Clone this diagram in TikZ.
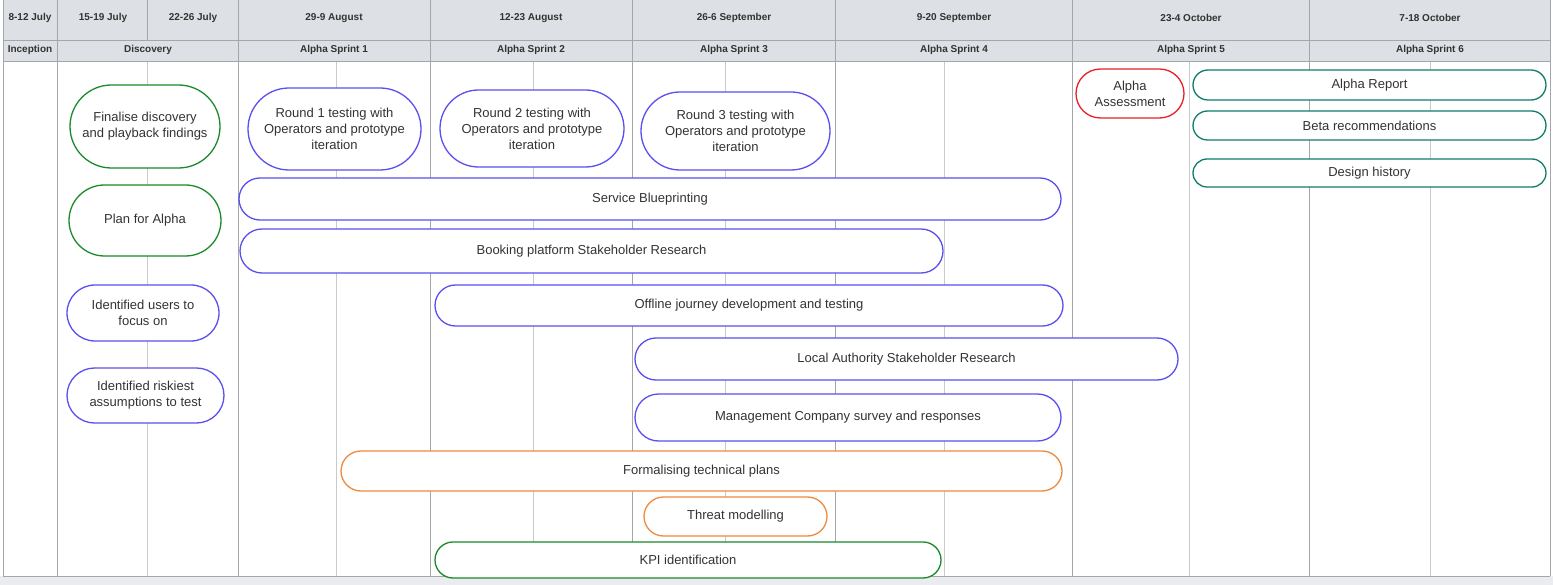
\documentclass[tikz,border=0pt]{standalone}
\usepackage{fontspec}
\setmainfont{Liberation Sans}
\usetikzlibrary{shapes.misc}
\definecolor{hdr}{HTML}{DDE0E4}
\definecolor{grid}{HTML}{A3A7AB}
\definecolor{lgrid}{HTML}{C8CACC}
\definecolor{cgreen}{HTML}{1A8A2A}
\definecolor{cblue}{HTML}{5B4FF0}
\definecolor{cred}{HTML}{E8202A}
\definecolor{cteal}{HTML}{0E7D6A}
\definecolor{corange}{HTML}{F08A3C}
\definecolor{txt}{HTML}{333333}
\tikzset{
  pill/.style={rounded rectangle, draw=#1, line width=1.3pt, fill=white, inner sep=0pt,
    text=txt, font=\fontsize{13}{16}\selectfont, align=center},
  hd/.style={font=\bfseries\fontsize{10}{12}\selectfont, text=txt},
}
\newcommand{\mypill}[7]{%
  \node[pill=#6, minimum width={(#4-#2)*1pt}, minimum height={(#5-#3)*1pt}]
    (#1) at ({(#2+#4)/2},{(#3+#5)/2}) {#7};}
\begin{document}
\begin{tikzpicture}[x=1pt,y=-1pt]
\useasboundingbox (0,0) rectangle (1553,585);
\fill[hdr!60] (0,576) rectangle (1553,585);
\fill[hdr] (3,0) rectangle (1550,61);
\fill[white] (3,61) rectangle (1550,576);
% light body lines
\foreach \x in {336,533,725,944,1189,1430} \draw[lgrid,line width=0.8pt] (\x,61) -- (\x,576);
\draw[lgrid,line width=0.8pt] (147,61) -- (147,576);
\draw[grid,line width=0.8pt] (147,0) -- (147,40);
% main lines
\foreach \x in {3,57,238,430,632,835,1072,1309,1550} \draw[grid,line width=0.8pt] (\x,0) -- (\x,576);
\draw[grid,line width=0.8pt] (3,40) -- (1550,40);
\draw[grid,line width=0.8pt] (3,61) -- (1550,61);
\draw[grid,line width=0.8pt] (3,576) -- (1550,576);
% header texts
\node[hd] (h1) at (30,18) {8-12 July};
\node[hd] (h2) at (103,18) {15-19 July};
\node[hd] (h3) at (193,18) {22-26 July};
\node[hd] (h4) at (334,18) {29-9 August};
\node[hd] (h5) at (531,18) {12-23 August};
\node[hd] (h6) at (734,18) {26-6 September};
\node[hd] (h7) at (954,18) {9-20 September};
\node[hd] (h8) at (1191,18) {23-4 October};
\node[hd] (h9) at (1430,18) {7-18 October};
\node[hd] (s1) at (30,49.5) {Inception};
\node[hd] (s2) at (148,49.5) {Discovery};
\node[hd] (s3) at (334,49.5) {Alpha Sprint 1};
\node[hd] (s4) at (531,49.5) {Alpha Sprint 2};
\node[hd] (s5) at (734,49.5) {Alpha Sprint 3};
\node[hd] (s6) at (954,49.5) {Alpha Sprint 4};
\node[hd] (s7) at (1191,49.5) {Alpha Sprint 5};
\node[hd] (s8) at (1430,49.5) {Alpha Sprint 6};
% pills
\mypill{n1}{70}{85}{220}{168}{cgreen}{Finalise discovery\\and playback findings}
\mypill{n2}{69}{185}{221}{256}{cgreen}{Plan for Alpha}
\mypill{n3}{67}{285}{219}{341}{cblue}{Identified users to\\focus on}
\mypill{n4}{67}{368}{224}{423}{cblue}{Identified riskiest\\assumptions to test}
\mypill{n5}{248}{88}{421}{170}{cblue}{Round 1 testing with\\Operators and prototype\\iteration}
\mypill{n6}{440}{90}{624}{167}{cblue}{Round 2 testing with\\Operators and prototype\\iteration}
\mypill{n7}{641}{92}{830}{170}{cblue}{Round 3 testing with\\Operators and prototype\\iteration}
\mypill{n8}{1076}{69}{1184}{118}{cred}{Alpha\\Assessment}
\mypill{n9}{1193}{70}{1546}{100}{cteal}{Alpha Report}
\mypill{n10}{1193}{111}{1546}{140}{cteal}{Beta recommendations}
\mypill{n11}{1193}{159}{1546}{187}{cteal}{Design history}
\mypill{n12}{239}{178}{1061}{220}{cblue}{Service Blueprinting}
\mypill{n13}{240}{229}{943}{273}{cblue}{Booking platform Stakeholder Research}
\mypill{n14}{435}{285}{1063}{326}{cblue}{Offline journey development and testing}
\mypill{n15}{635}{338}{1178}{380}{cblue}{Local Authority Stakeholder Research}
\mypill{n16}{635}{394}{1061}{441}{cblue}{Management Company survey and responses}
\mypill{n17}{341}{451}{1062}{491}{corange}{Formalising technical plans}
\mypill{n18}{644}{497}{827}{536}{corange}{Threat modelling}
\mypill{n19}{435}{542}{941}{578}{cgreen}{KPI identification}
\end{tikzpicture}
\end{document}
